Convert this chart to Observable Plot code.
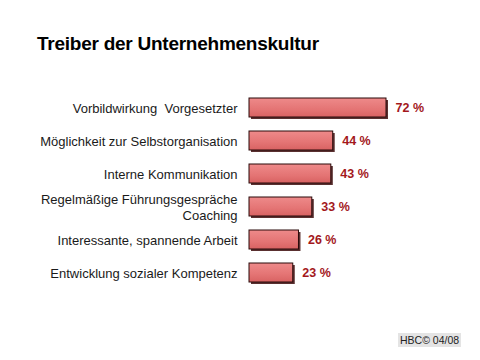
<!DOCTYPE html>
<html><head><meta charset="utf-8">
<script src="https://cdn.jsdelivr.net/npm/d3@7"></script>
<script src="https://cdn.jsdelivr.net/npm/@observablehq/plot@0.6"></script>
<style>
html,body{margin:0;padding:0;background:#fff;}
#wrap{position:relative;width:480px;height:360px;overflow:hidden;font-family:Arial,"Liberation Sans",sans-serif;}
#title{position:absolute;left:37px;top:33px;font-size:19px;font-weight:bold;color:#000;letter-spacing:-0.25px;white-space:nowrap;}
#foot{position:absolute;left:398px;top:333px;font-size:10.5px;color:#222;background:#e4e4e4;padding:1px 2px;}
#chart{position:absolute;left:0;top:0;}
</style></head>
<body><div id="wrap"><div id="chart"></div><div id="title">Treiber der Unternehmenskultur</div><div id="foot">HBC© 04/08</div></div>
<script>
const categories = ["Vorbildwirkung  Vorgesetzter","Möglichkeit zur Selbstorganisation","Interne Kommunikation","Regelmäßige Führungsgespräche\nCoaching","Interessante, spannende Arbeit","Entwicklung sozialer Kompetenz"];
const values = [72, 44, 43, 33, 26, 23];
const data = categories.map((c,i)=>({c, v: values[i]}));

const plot = Plot.plot({
  width: 480, height: 360,
  marginLeft: 249, marginRight: 94, marginTop: 83, marginBottom: 63,
  style: {fontFamily: "Arial, 'Liberation Sans', sans-serif", background: "#fff"},
  x: {domain: [0, 72], axis: null},
  y: {domain: categories, padding: 0.43, label: null, axis: null},
  marks: [
    Plot.axisY({tickSize: 0, tickPadding: 12, fontSize: 13, lineHeight: 1.23, fill: "#1a1a1a", label: null}),
    Plot.barX(data, {x: "v", y: "c", fill: "#5a3030", dx: 2, dy: 2}),
    Plot.barX(data, {x: "v", y: "c", fill: "url(#bargrad)", stroke: "#2a0a0a", strokeWidth: 1}),
    Plot.text(data, {x: "v", y: "c", text: d => d.v + " %", dx: 9, textAnchor: "start", fill: "#a3181c", fontWeight: "bold", fontSize: 12.5})
  ]
});
const defs = d3.select(plot).insert("defs", ":first-child");
const g = defs.append("linearGradient").attr("id","bargrad").attr("x1",0).attr("y1",0).attr("x2",0).attr("y2",1);
g.append("stop").attr("offset","0%").attr("stop-color","#ee8a8a");
g.append("stop").attr("offset","60%").attr("stop-color","#e47474");
g.append("stop").attr("offset","100%").attr("stop-color","#d86262");
document.getElementById("chart").appendChild(plot);
</script></body></html>
